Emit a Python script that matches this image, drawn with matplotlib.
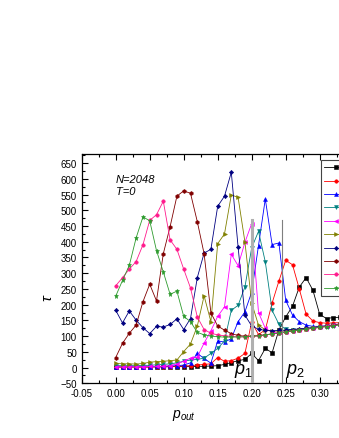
import matplotlib
matplotlib.use("Agg")
import matplotlib.pyplot as plt
from matplotlib.ticker import MultipleLocator

plt.rcParams['font.family'] = ['Liberation Sans', 'DejaVu Sans']
plt.rcParams['mathtext.fontset'] = 'custom'
plt.rcParams['mathtext.rm'] = 'Liberation Sans'
plt.rcParams['mathtext.it'] = 'Liberation Sans:italic'

# ---------------- data ----------------
p_out = [0.00, 0.01, 0.02, 0.03, 0.04, 0.05, 0.06, 0.07, 0.08, 0.09,
         0.10, 0.11, 0.12, 0.13, 0.14, 0.15, 0.16, 0.17, 0.18, 0.19,
         0.20, 0.21, 0.22, 0.23, 0.24, 0.25, 0.26, 0.27, 0.28, 0.29,
         0.30, 0.31, 0.32, 0.33]

tau_black = [2, 2, 2, 2, 2, 2, 2, 2, 3, 3, 3, 3, 4, 4, 5, 6, 10, 16, 22, 26,
             45, 22, 61, 47, 120, 161, 195, 256, 286, 246, 169, 156, 159, 160]
tau_red = [2, 2, 2, 2, 2, 2, 3, 3, 3, 4, 5, 6, 8, 10, 12, 32, 20, 22, 30, 45,
           145, 105, 120, 205, 275, 341, 327, 250, 170, 148, 143, 141, 142, 143]
tau_blue = [3, 3, 3, 3, 3, 3, 4, 4, 5, 6, 8, 15, 45, 29, 14, 85, 81, 92, 146, 177,
            240, 388, 536, 391, 396, 214, 167, 146, 135, 131, 131, 133, 136, 139]
tau_teal = [6, 6, 6, 6, 7, 7, 9, 10, 12, 15, 20, 24, 26, 30, 45, 61, 85, 182, 198, 256,
            381, 433, 336, 182, 138, 122, 120, 121, 123, 126, 129, 132, 135, 138]
tau_magenta = [3, 3, 3, 3, 3, 4, 4, 4, 6, 12, 20, 30, 33, 78, 117, 163, 193, 360, 324, 398,
               458, 175, 125, 112, 112, 114, 117, 120, 123, 126, 129, 132, 135, 138]
tau_olive = [13, 12, 12, 11, 13, 17, 19, 20, 22, 24, 51, 75, 132, 228, 146, 394, 425, 549, 541, 400,
             205, 135, 120, 116, 116, 117, 119, 121, 124, 127, 130, 132, 135, 138]
tau_navy = [182, 142, 180, 151, 127, 108, 131, 129, 137, 155, 121, 156, 286, 364, 376, 513, 545, 621, 383, 167,
            132, 122, 118, 117, 118, 119, 121, 123, 125, 127, 130, 132, 135, 138]
tau_darkred = [32, 77, 109, 135, 209, 265, 212, 362, 448, 545, 562, 554, 464, 362, 174, 132, 119, 108, 102, 100,
               100, 102, 104, 107, 110, 113, 116, 119, 122, 125, 128, 131, 134, 137]
tau_pink = [260, 286, 313, 337, 390, 468, 486, 529, 406, 376, 313, 253, 161, 121, 109, 104, 101, 99, 98, 98,
            99, 101, 104, 107, 110, 113, 116, 119, 122, 125, 128, 131, 134, 137]
tau_green = [227, 277, 325, 412, 479, 467, 372, 304, 233, 243, 163, 146, 112, 104, 100, 98, 97, 97, 97, 98,
             99, 101, 104, 107, 110, 113, 116, 119, 122, 125, 128, 130, 133, 136]

# legend labels fall outside the visible canvas in the reference (blank here)
series_labels = ['        '] * 10
p1 = 0.20
p2 = 0.244
marker_line_top = 470

# ---------------- figure ----------------
W, H = 339, 439
fig = plt.figure(figsize=(W / 100, H / 100), dpi=100)
ax = fig.add_axes([81.7 / W, 1 - 384.3 / H, 272 / W, (384.3 - 154.7) / H])

styles = [
    (tau_black, 'black', 's'),
    (tau_red, '#FF0000', 'o'),
    (tau_blue, '#0000FF', '^'),
    (tau_teal, '#008080', 'v'),
    (tau_magenta, '#FF00FF', '<'),
    (tau_olive, '#808000', '>'),
    (tau_navy, '#000080', 'D'),
    (tau_darkred, '#800000', 'h'),
    (tau_pink, '#FF1A8C', 'o'),
    (tau_green, '#2E9B2E', '*'),
]
ms = {'s': 2.3, 'o': 2.5, '^': 2.8, 'v': 2.8, '<': 2.8, '>': 2.8, 'D': 2.2, 'h': 2.8, '*': 3.6}
for (vals, col, mk), lab in zip(styles, series_labels):
    ax.plot(p_out, vals, color=col, lw=0.6, marker=mk, ms=ms[mk], mfc=col, mec=col,
            mew=0.4, label=lab)

ax.plot([p1, p1], [-50, marker_line_top], color='#B0B0B0', lw=2.2, zorder=5)
ax.plot([p2, p2], [-50, marker_line_top], color='#7F7F7F', lw=0.8, zorder=5)

ax.set_xlim(-0.05, 0.35)
ax.set_ylim(-50, 680)
ax.xaxis.set_minor_locator(MultipleLocator(0.025))
ax.yaxis.set_minor_locator(MultipleLocator(25))
ax.set_xticks([-0.05, 0.0, 0.05, 0.10, 0.15, 0.20, 0.25, 0.30])
ax.set_xticklabels(['-0.05', '0.00', '0.05', '0.10', '0.15', '0.20', '0.25', '0.30'])
ax.set_yticks(list(range(-50, 651, 50)))
ax.tick_params(which='both', direction='in', top=True, right=True, labelsize=7, width=0.8)
ax.tick_params(which='major', length=4, pad=3.5)
ax.tick_params(which='minor', length=2)
for s in ax.spines.values():
    s.set_linewidth(0.9)

ax.text(0.0, 589, 'N=2048', fontsize=8, style='italic', va='baseline', ha='left')
ax.text(0.0, 552, 'T=0', fontsize=8, style='italic', va='baseline', ha='left')
ax.text(0.174, -16, r'$p_1$', fontsize=13, va='baseline', ha='left', zorder=6)
ax.text(0.25, -16, r'$p_2$', fontsize=13, va='baseline', ha='left', zorder=6)

fig.text(184 / W, 1 - 418 / H, r'$p_{out}$', fontsize=10, ha='center', va='baseline')
fig.text(47 / W, 1 - 298 / H, 'τ', fontsize=11, style='italic', rotation=90,
         ha='center', va='center')

ax.legend(loc='upper left', bbox_to_anchor=(321 / W, 1 - 160.7 / H),
          bbox_transform=fig.transFigure, borderaxespad=0, frameon=True,
          fancybox=False, edgecolor='#444444', fontsize=7, handlelength=2.5,
          borderpad=0.3, labelspacing=0.35, handletextpad=0.5, framealpha=1)
leg = ax.get_legend()
leg.get_frame().set_linewidth(0.8)

fig.savefig('out.png', dpi=100)
